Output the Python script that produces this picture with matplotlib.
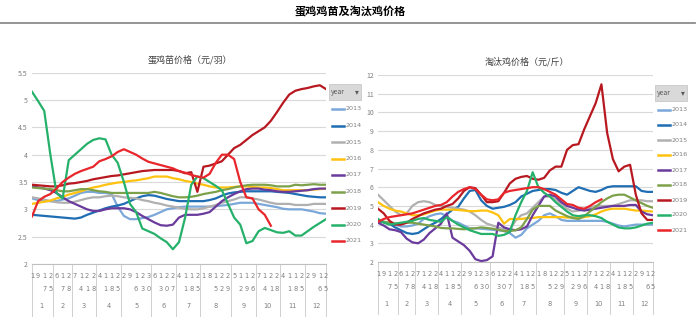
import numpy as np
import matplotlib
matplotlib.use("Agg")
import matplotlib.pyplot as plt
from matplotlib.lines import Line2D
from matplotlib.patches import Rectangle

plt.rcParams['font.family'] = ['Noto Sans CJK SC', 'DejaVu Sans']

W, H = 700, 323

# x axis: day labels grouped by month
days_by_month = [[1, 9, 17, 25], [6, 17, 28], [7, 14, 21, 28], [4, 11, 18, 25],
                 [2, 9, 16, 23, 30], [6, 13, 20, 27], [4, 11, 18, 25],
                 [1, 8, 15, 22, 29], [5, 12, 19, 26], [7, 14, 21, 28],
                 [4, 11, 18, 25], [2, 9, 16, 25]]
months = list(range(1, 13))
years = [2013, 2014, 2015, 2016, 2017, 2018, 2019, 2020, 2021]
colors = ['#7ba7d9', '#1f6db3', '#b0b0b0', '#ffc20e', '#6a3a9c',
          '#7da14a', '#b81820', '#26b16b', '#e8262b']

# 蛋鸡苗价格（元/羽）
chick_2013 = [3.2, 3.17, 3.15, 3.15, 3.15, 3.18, 3.2, 3.25, 3.3, 3.32, 3.32, 3.3, 3.3, 3.28, 3.05, 2.88,
              2.82, 2.82, 2.84, 2.86, 2.9, 2.95, 3.0, 3.02, 3.04, 3.05, 3.05, 3.05, 3.05, 3.05, 3.06, 3.07,
              3.08, 3.1, 3.12, 3.12, 3.12, 3.1, 3.08, 3.06, 3.04, 3.01, 3.0, 3.0, 3.0, 2.98, 2.96, 2.93, 2.92]
chick_2014 = [2.9, 2.89, 2.88, 2.87, 2.86, 2.85, 2.84, 2.83, 2.85, 2.9, 2.94, 2.98, 3.02, 3.05, 3.07, 3.1,
              3.15, 3.2, 3.24, 3.26, 3.25, 3.22, 3.19, 3.17, 3.15, 3.15, 3.15, 3.15, 3.15, 3.17, 3.2, 3.25,
              3.29, 3.31, 3.32, 3.33, 3.33, 3.33, 3.33, 3.33, 3.32, 3.31, 3.3, 3.28, 3.26, 3.24, 3.23, 3.22, 3.22]
chick_2015 = [3.22, 3.2, 3.18, 3.15, 3.13, 3.12, 3.12, 3.14, 3.17, 3.2, 3.22, 3.22, 3.24, 3.25, 3.24, 3.22,
              3.21, 3.2, 3.17, 3.15, 3.12, 3.1, 3.07, 3.05, 3.03, 3.01, 3.0, 3.0, 3.02, 3.05, 3.08, 3.12,
              3.15, 3.18, 3.22, 3.22, 3.2, 3.18, 3.15, 3.12, 3.1, 3.1, 3.1, 3.08, 3.08, 3.08, 3.1, 3.1, 3.1]
chick_2016 = [3.1, 3.12, 3.14, 3.16, 3.2, 3.23, 3.27, 3.3, 3.33, 3.37, 3.4, 3.42, 3.45, 3.47, 3.49, 3.5,
              3.52, 3.53, 3.55, 3.57, 3.6, 3.6, 3.6, 3.57, 3.55, 3.52, 3.5, 3.47, 3.45, 3.42, 3.4, 3.4,
              3.4, 3.41, 3.42, 3.42, 3.41, 3.4, 3.4, 3.39, 3.37, 3.35, 3.35, 3.35, 3.35, 3.35, 3.36, 3.37, 3.38]
chick_2017 = [3.42, 3.4, 3.38, 3.35, 3.3, 3.22, 3.15, 3.1, 3.05, 3.0, 2.97, 2.97, 3.0, 3.02, 3.02, 3.02,
              3.0, 2.95, 2.88, 2.82, 2.76, 2.71, 2.7, 2.72, 2.85, 2.9, 2.9, 2.9, 2.92, 2.95, 3.05, 3.15,
              3.22, 3.28, 3.33, 3.37, 3.38, 3.38, 3.36, 3.35, 3.33, 3.32, 3.32, 3.33, 3.34, 3.35, 3.37, 3.38, 3.38]
chick_2018 = [3.4, 3.39, 3.38, 3.37, 3.35, 3.33, 3.33, 3.35, 3.37, 3.37, 3.35, 3.33, 3.32, 3.3, 3.3, 3.3,
              3.3, 3.3, 3.3, 3.3, 3.32, 3.3, 3.27, 3.24, 3.22, 3.22, 3.23, 3.25, 3.28, 3.3, 3.32, 3.35,
              3.37, 3.4, 3.42, 3.44, 3.45, 3.45, 3.45, 3.44, 3.42, 3.42, 3.42, 3.45, 3.44, 3.45, 3.46, 3.45, 3.45]
chick_2019 = [3.45, 3.44, 3.43, 3.42, 3.42, 3.44, 3.47, 3.48, 3.5, 3.52, 3.55, 3.57, 3.59, 3.61, 3.62, 3.64,
              3.66, 3.68, 3.7, 3.71, 3.72, 3.72, 3.72, 3.72, 3.7, 3.66, 3.68, 3.32, 3.78, 3.8, 3.84, 3.88,
              4.0, 4.12, 4.18, 4.27, 4.36, 4.43, 4.5, 4.62, 4.78, 4.95, 5.1, 5.17, 5.2, 5.22, 5.25, 5.27, 5.2]
chick_2020 = [5.15, 4.98, 4.8, 4.0, 3.3, 3.2, 3.9, 4.0, 4.1, 4.2, 4.27, 4.3, 4.28, 4.0, 3.85, 3.5,
              3.1, 2.95, 2.65, 2.6, 2.55, 2.47, 2.4, 2.27, 2.4, 2.85, 3.45, 3.6, 3.57, 3.5, 3.43, 3.35,
              3.1, 2.85, 2.72, 2.38, 2.42, 2.6, 2.66, 2.62, 2.58, 2.57, 2.6, 2.52, 2.52, 2.6, 2.68, 2.75, 2.82]
chick_2021 = [2.87, 3.15, 3.23, 3.28, 3.38, 3.5, 3.58, 3.65, 3.7, 3.74, 3.78, 3.88, 3.92, 3.97, 4.05, 4.1,
              4.05, 4.0, 3.93, 3.87, 3.84, 3.81, 3.78, 3.75, 3.7, 3.67, 3.63, 3.6, 3.58, 3.65, 3.85, 4.0,
              4.0, 3.92, 3.5, 3.22, 3.2, 3.0, 2.9, 2.7, None, None, None, None, None, None, None, None, None]

# 淘汰鸡价格（元/斤）
cull_2013 = [4.2, 4.15, 4.05, 4.0, 3.9, 3.9, 3.95, 4.05, 4.3, 4.45, 4.55, 4.6, 4.45, 4.2, 4.1, 3.95,
             3.8, 3.8, 3.78, 3.75, 3.72, 3.7, 3.65, 3.55, 3.3, 3.45, 3.8, 4.0, 4.2, 4.5, 4.6, 4.45,
             4.25, 4.2, 4.2, 4.2, 4.2, 4.2, 4.2, 4.2, 4.15, 4.05, 3.95, 3.9, 3.95, 4.0, 4.0, 4.0, 4.0]
cull_2014 = [4.15, 4.15, 4.05, 3.85, 3.7, 3.55, 3.5, 3.55, 3.75, 3.95, 4.1, 4.3, 4.55, 4.8, 4.95, 5.4,
             5.8, 5.85, 5.3, 5.0, 4.85, 4.9, 4.95, 5.05, 5.2, 5.5, 5.65, 5.8, 5.85, 5.9, 5.9, 5.85,
             5.7, 5.6, 5.8, 6.0, 5.9, 5.8, 5.75, 5.85, 6.0, 6.05, 6.05, 6.05, 6.05, 6.05, 5.8, 5.75, 5.75]
cull_2015 = [5.6, 5.3, 5.0, 4.7, 4.5, 4.6, 5.0, 5.2, 5.25, 5.2, 5.05, 5.0, 4.95, 4.9, 4.85, 4.8,
             4.7, 4.5, 4.25, 4.05, 3.95, 3.85, 3.75, 3.75, 4.2, 4.5, 4.6, 4.9, 5.2, 5.5, 5.5, 5.35,
             5.1, 4.85, 4.7, 4.75, 4.8, 4.9, 5.0, 5.0, 5.0, 5.0, 5.1, 5.2, 5.3, 5.3, 5.3, 5.25, 5.25]
cull_2016 = [5.2, 5.0, 4.85, 4.75, 4.7, 4.6, 4.5, 4.5, 4.55, 4.65, 4.75, 4.8, 4.8, 4.8, 4.78, 4.75,
             4.72, 4.72, 4.75, 4.75, 4.65, 4.5, 4.05, 4.3, 4.3, 4.3, 4.35, 4.35, 4.4, 4.4, 4.4, 4.4,
             4.4, 4.38, 4.38, 4.35, 4.4, 4.45, 4.55, 4.7, 4.8, 4.85, 4.85, 4.85, 4.8, 4.75, 4.75, 4.72, 4.7]
cull_2017 = [4.1, 3.95, 3.75, 3.7, 3.6, 3.25, 3.05, 3.0, 3.2, 3.55, 3.8, 4.05, 4.6, 3.3, 3.1, 2.9,
             2.6, 2.15, 2.05, 2.1, 2.3, 4.1, 3.85, 3.75, 3.7, 3.75, 3.9, 4.5, 5.0, 5.5, 5.6, 5.5,
             5.2, 5.0, 4.9, 4.8, 4.75, 4.8, 4.85, 4.9, 4.95, 5.0, 5.0, 5.0, 5.05, 5.05, 4.7, 4.55, 4.5]
cull_2018 = [4.2, 4.15, 4.1, 4.05, 4.05, 4.1, 4.1, 4.05, 4.0, 3.95, 3.9, 3.82, 3.8, 3.8, 3.77, 3.75,
             3.78, 3.8, 3.85, 3.82, 3.78, 3.72, 3.66, 3.65, 3.7, 3.85, 4.3, 4.8, 5.0, 5.0, 5.0, 4.75,
             4.6, 4.45, 4.35, 4.3, 4.45, 4.7, 4.95, 5.2, 5.4, 5.55, 5.6, 5.6, 5.45, 5.3, 5.15, 5.0, 4.9]
cull_2019 = [4.85, 4.6, 4.2, 4.0, 4.0, 4.1, 4.3, 4.45, 4.6, 4.7, 4.8, 4.85, 5.0, 5.1, 5.4, 5.8,
             6.0, 5.95, 5.6, 5.2, 5.2, 5.25, 5.7, 6.2, 6.45, 6.55, 6.6, 6.45, 6.4, 6.5, 6.9, 7.1,
             7.1, 8.0, 8.25, 8.3, 9.1, 9.8, 10.5, 11.5, 8.9, 7.5, 6.85, 7.1, 7.2, 5.6, 4.6, 4.25, 4.25]
cull_2020 = [4.3, 4.1, 4.0, 4.05, 4.1, 4.15, 4.2, 4.3, 4.35, 4.25, 4.2, 4.15, 4.4, 4.2, 4.0, 3.85,
             3.7, 3.6, 3.5, 3.5, 3.5, 3.4, 3.45, 3.6, 4.5, 5.2, 5.8, 6.8, 6.0, 5.7, 5.5, 5.2,
             4.95, 4.7, 4.5, 4.45, 4.5, 4.5, 4.45, 4.35, 4.15, 4.0, 3.85, 3.8, 3.8, 3.85, 3.95, 4.05, 4.1]
cull_2021 = [4.15, 4.3, 4.4, 4.45, 4.5, 4.55, 4.6, 4.7, 4.8, 4.9, 5.0, 5.05, 5.2, 5.5, 5.75, 5.9,
             6.0, 5.9, 5.6, 5.35, 5.3, 5.35, 5.7, 5.8, 5.85, 5.9, 5.95, 6.0, 6.0, 5.9, 5.75, 5.6,
             5.35, 5.1, 5.05, 4.9, 4.85, 5.0, 5.2, 5.35, None, None, None, None, None, None, None, None, None]

chick = [chick_2013, chick_2014, chick_2015, chick_2016, chick_2017, chick_2018, chick_2019, chick_2020, chick_2021]
cull = [cull_2013, cull_2014, cull_2015, cull_2016, cull_2017, cull_2018, cull_2019, cull_2020, cull_2021]


def fx(px):
    return px / W


def fy(py):
    return 1 - py / H


fig = plt.figure(figsize=(W / 100, H / 100), dpi=100)
fig.patch.set_facecolor('white')

fig.text(fx(350), fy(12), '蛋鸡鸡苗及淘汰鸡价格', ha='center', va='center',
         fontsize=8, fontweight='heavy', color='#000000')
fig.add_artist(Line2D([0, fx(695)], [fy(23), fy(23)], transform=fig.transFigure,
                      color='#8c8c8c', lw=1.3))


def draw_panel(rect_px, series, ylo, yhi, step, title, title_px, legend_px, legend_step):
    x0, y_top, x1, y_bot = rect_px
    ax = fig.add_axes([fx(x0), fy(y_bot), fx(x1) - fx(x0), fy(y_top) - fy(y_bot)])
    ax_h = y_bot - y_top
    n = sum(len(d) for d in days_by_month)
    x = np.arange(n)
    for vals, c in zip(series, colors):
        ax.plot(x, np.array(vals, dtype=float), color=c, lw=1.6, solid_joinstyle='round')
    ax.set_xlim(0, n - 1)
    ax.set_ylim(ylo, yhi)
    ticks = np.arange(ylo, yhi + step / 2, step)
    ax.set_yticks(ticks)
    ax.set_yticklabels(['%g' % t for t in ticks])
    ax.grid(axis='y', color='#d9d9d9', lw=0.8)
    ax.set_axisbelow(True)
    for s in ['top', 'right', 'left']:
        ax.spines[s].set_visible(False)
    ax.spines['bottom'].set_color('#bfbfbf')
    ax.spines['bottom'].set_linewidth(0.8)
    ax.tick_params(axis='y', length=0, labelsize=5, labelcolor='#7f7f7f', pad=3)
    ax.set_xticks([])

    # two level category axis
    tr = ax.get_xaxis_transform()
    i = 0
    seps = [0]
    for m, days in zip(months, days_by_month):
        start = i
        for d in days:
            s = str(d)
            ax.text(i, -12 / ax_h, s[0], transform=tr, ha='center', va='center',
                    fontsize=4.8, color='#7f7f7f', family='DejaVu Sans')
            if len(s) > 1:
                ax.text(i, -25 / ax_h, s[1], transform=tr, ha='center', va='center',
                        fontsize=4.8, color='#7f7f7f', family='DejaVu Sans')
            i += 1
        ax.text((start + i - 1) / 2, -42 / ax_h, str(m), transform=tr, ha='center',
                va='center', fontsize=4.8, color='#7f7f7f', family='DejaVu Sans')
        seps.append(i - 0.5 if i < n else n - 1)
    for s in seps:
        ax.plot([s, s], [0, -52 / ax_h], transform=tr, color='#d0d0d0', lw=0.7, clip_on=False)

    fig.text(fx(title_px[0]), fy(title_px[1]), title, ha='center', va='center',
             fontsize=6.5, color='#404040')

    # legend with "year" button
    lx, ly = legend_px
    fig.add_artist(Rectangle((fx(lx - 2), fy(ly + 8)), fx(32), fy(0) - fy(16),
                             transform=fig.transFigure, fc='#d9d9d9', ec='#c8c8c8', lw=0.6))
    fig.text(fx(lx), fy(ly), 'year', ha='left', va='center', fontsize=5, color='#595959')
    fig.text(fx(lx + 24), fy(ly), '▾', ha='left', va='center', fontsize=5.5,
             color='#595959', family='DejaVu Sans')
    for k, (yr, c) in enumerate(zip(years, colors)):
        yy = ly + 17 + k * legend_step
        fig.add_artist(Line2D([fx(lx + 1), fx(lx + 13)], [fy(yy), fy(yy)],
                              transform=fig.transFigure, color=c, lw=1.8))
        fig.text(fx(lx + 15), fy(yy), str(yr), ha='left', va='center', fontsize=4.6,
                 color='#7f7f7f', family='DejaVu Sans')
    return ax


draw_panel((32, 72.7, 326, 264), chick, 2, 5.5, 0.5, '蛋鸡苗价格（元/羽）', (190, 60),
           (331, 92), 16.5)
draw_panel((378, 75, 653, 262), cull, 2, 12, 1, '淘汰鸡价格（元/斤）', (527, 62),
           (657, 93), 15)

fig.savefig('out.png', dpi=100, facecolor='white')
